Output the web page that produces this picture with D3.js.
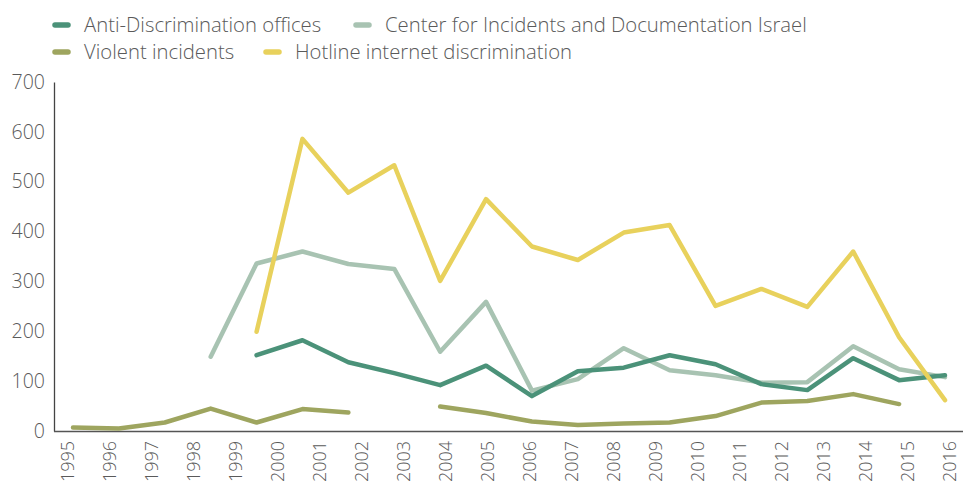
<!DOCTYPE html>
<html>
<head>
<meta charset="utf-8">
<script src="https://cdn.jsdelivr.net/npm/d3@7"></script>
<style>
  body { margin: 0; background: #fff; }
  svg text { font-family: "Open Sans", sans-serif; font-weight: 300; fill: #5a5a5a; }
</style>
</head>
<body>
<svg width="963" height="487"></svg>
<script>
var svg = d3.select('svg');

// tick labels on the x axis
const years = d3.range(1995, 2017).map(String);
const yTicks = [0, 100, 200, 300, 400, 500, 600, 700];

// the chart puts 20 data points evenly across the axis
const pointIndex = d3.range(20);

const antiDiscrimination = [null, null, null, null, 152, 182, 138, 116, 92, 131, 70, 120, 127, 152, 134, 94, 82, 146, 102, 112];
const centerIncidents   = [null, null, null, 149, 336, 360, 335, 325, 159, 259, 81, 104, 166, 122, 112, 97, 98, 170, 124, 108];
const violentIncidents  = [7, 5, 17, 45, 17, 44, 37, null, 49, 36, 19, 12, 15, 17, 30, 57, 60, 74, 54, null];
const hotline           = [null, null, null, null, 199, 586, 478, 533, 301, 465, 370, 343, 398, 413, 251, 285, 249, 360, 188, 62];

const seriesNames = ["Anti-Discrimination offices", "Center for Incidents and Documentation Israel", "Violent incidents", "Hotline internet discrimination"];
const seriesColors = ["#4b9279", "#a8c3b2", "#9ea55f", "#e8d15c"];
const seriesValues = [antiDiscrimination, centerIncidents, violentIncidents, hotline];

var yScale = d3.scaleLinear()
    .domain([0, 700])
    .range([431, 82]);

var xLabelScale = d3.scalePoint()
    .domain(years)
    .range([68, 950]);

var xScale = d3.scalePoint()
    .domain(pointIndex)
    .range([73, 945]);

// y axis
var yAxis = d3.axisLeft(yScale).tickValues(yTicks).tickSize(0).tickPadding(9);
var yg = svg.append("g")
    .attr("transform", "translate(54, 0)")
    .call(yAxis);
yg.select(".domain").attr("stroke", "#444").attr("stroke-width", 1.3);
yg.selectAll("text")
    .style("font-size", "19.5px")
    .attr("fill", "#5a5a5a");

// x axis line
svg.append("line")
    .attr("x1", 54).attr("x2", 963)
    .attr("y1", 431.5).attr("y2", 431.5)
    .attr("stroke", "#555")
    .attr("stroke-width", 1.3);

// x labels, rotated
svg.append("g").selectAll("text")
    .data(years)
    .enter()
    .append("text")
    .attr("transform", d => "translate(" + xLabelScale(d) + ", 441)rotate(-90)")
    .attr("text-anchor", "end")
    .attr("dy", "0.35em")
    .style("font-size", "18px")
    .text(d => d);

var line = d3.line()
    .defined(d => d != null)
    .x((d, i) => xScale(i))
    .y(d => yScale(d));

// lines - draw in order so yellow sits on top
var drawOrder = [2, 1, 0, 3];
drawOrder.forEach(function(k) {
    svg.append("path")
        .datum(seriesValues[k])
        .attr("d", line)
        .attr("fill", "none")
        .attr("stroke", seriesColors[k])
        .attr("stroke-width", 4.5)
        .attr("stroke-linecap", "round")
        .attr("stroke-linejoin", "round");
});

// legend
var legendPos = [[52, 25], [353, 25], [52, 52], [263, 52]];
var legend = svg.append("g").selectAll("g")
    .data(seriesNames)
    .enter()
    .append("g")
    .attr("transform", (d, i) => "translate(" + legendPos[i][0] + "," + legendPos[i][1] + ")");

legend.append("line")
    .attr("x1", 3).attr("x2", 16)
    .attr("stroke", (d, i) => seriesColors[i])
    .attr("stroke-width", 5.5)
    .attr("stroke-linecap", "round");

legend.append("text")
    .attr("x", 32)
    .attr("dy", "0.35em")
    .style("font-size", "20.3px")
    .text(d => d);
</script>
</body>
</html>
